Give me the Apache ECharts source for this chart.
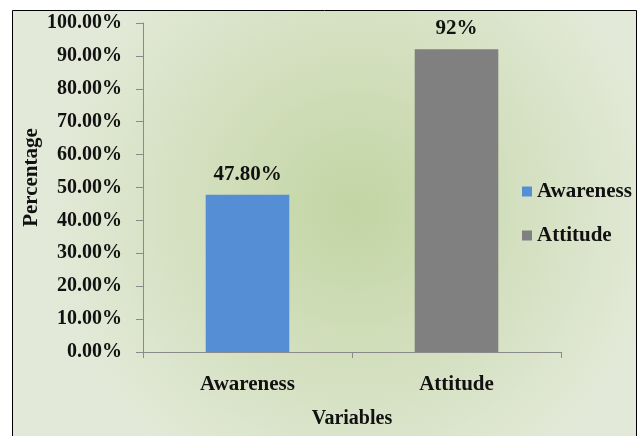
<!DOCTYPE html>
<html>
<head>
<meta charset="utf-8">
<script src="https://cdn.jsdelivr.net/npm/echarts@6/dist/echarts.min.js"></script>
<style>
html,body{margin:0;padding:0;background:#fff;}
#c{width:638px;height:436px;}
</style>
</head>
<body>
<div id="c"></div>
<script>
var categories = ['Awareness', 'Attitude'];
var awarenessValues = [47.8, '-'];
var attitudeValues = ['-', 92];
var valueLabels = ['47.80%', '92%'];
var seriesNames = ['Awareness', 'Attitude'];

var FONT = '"Liberation Serif","Times New Roman",serif';
var chart = echarts.init(document.getElementById('c'));
var labelCfg = {
  show: true, position: 'top', distance: 10,
  fontFamily: FONT, fontWeight: 'bold', fontSize: 21, color: '#111',
  formatter: function (p) { return valueLabels[p.dataIndex]; }
};
chart.setOption({
  animation: false,
  graphic: [{
    type: 'rect', z: -10, silent: true,
    shape: { x: 12.5, y: 10.5, width: 624, height: 440 },
    style: {
      fill: {
        type: 'radial', x: 0.55, y: 0.45, r: 0.7, global: false,
        colorStops: [
          { offset: 0, color: '#c2d5a3' },
          { offset: 1, color: '#e3e9d8' }
        ]
      },
      stroke: '#000', lineWidth: 1
    }
  }],
  grid: { left: 143, right: 77, top: 23, bottom: 84, outerBoundsMode: 'none', containLabel: false },
  legend: {
    orient: 'vertical', left: 517, top: 176,
    itemWidth: 10, itemHeight: 10, itemGap: 23, icon: 'rect',
    textStyle: { fontFamily: FONT, fontWeight: 'bold', fontSize: 21, color: '#111', lineHeight: 20 },
    data: seriesNames
  },
  xAxis: {
    type: 'category', data: categories,
    name: 'Variables', nameLocation: 'middle', nameGap: 57, nameMoveOverlap: false,
    nameTextStyle: { fontFamily: FONT, fontWeight: 'bold', fontSize: 20, color: '#111' },
    axisLine: { lineStyle: { color: '#8a8a8a' } },
    axisTick: { show: true, length: 6, lineStyle: { color: '#8a8a8a' } },
    axisLabel: { margin: 22, fontFamily: FONT, fontWeight: 'bold', fontSize: 21, color: '#111' }
  },
  yAxis: {
    type: 'value', min: 0, max: 100, interval: 10,
    name: 'Percentage', nameLocation: 'middle', nameGap: 101, nameMoveOverlap: false,
    nameTextStyle: { fontFamily: FONT, fontWeight: 'bold', fontSize: 21, color: '#111', padding: [0, 0, 0, 20] },
    splitLine: { show: false },
    axisLine: { show: true, lineStyle: { color: '#8a8a8a' } },
    axisTick: { show: true, length: 7, lineStyle: { color: '#8a8a8a' } },
    axisLabel: {
      margin: 21, fontFamily: FONT, fontWeight: 'bold', fontSize: 20, color: '#111',
      formatter: function (v) { return v.toFixed(2) + '%'; }
    }
  },
  series: [
    { name: seriesNames[0], type: 'bar', stack: 'v', barWidth: '40%', data: awarenessValues,
      itemStyle: { color: '#568ed6' }, label: labelCfg },
    { name: seriesNames[1], type: 'bar', stack: 'v', barWidth: '40%', data: attitudeValues,
      itemStyle: { color: '#808080' }, label: labelCfg }
  ]
});
</script>
</body>
</html>
